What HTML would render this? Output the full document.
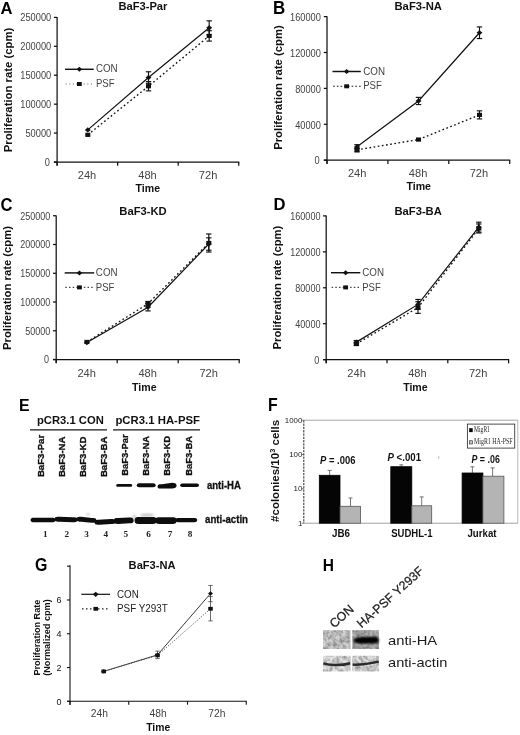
<!DOCTYPE html>
<html><head><meta charset="utf-8"><title>Figure</title>
<style>html,body{margin:0;padding:0;background:#fff}body{width:520px;height:735px;overflow:hidden;font-family:"Liberation Sans",sans-serif}svg{display:block;will-change:transform;opacity:0.999}text{font-family:"Liberation Sans",sans-serif}</style>
</head><body>
<svg width="520" height="735" viewBox="0 0 520 735">
<rect width="520" height="735" fill="#fff"/>
<g id="panelA">
<line x1="57.1" y1="17.099999999999998" x2="57.1" y2="165.6" stroke="#111" stroke-width="1.25"/>
<line x1="53.9" y1="162.0" x2="239.24999999999997" y2="162.0" stroke="#111" stroke-width="1.25"/>
<line x1="53.9" y1="162.0" x2="57.1" y2="162.0" stroke="#111" stroke-width="1.25"/>
<text x="49.900000000000006" y="165.9" font-size="11" text-anchor="end" textLength="5.15" lengthAdjust="spacingAndGlyphs" fill="#444">0</text>
<line x1="53.9" y1="133.08" x2="57.1" y2="133.08" stroke="#111" stroke-width="1.25"/>
<text x="51.2" y="136.98" font-size="11" text-anchor="end" textLength="25.75" lengthAdjust="spacingAndGlyphs" fill="#444">50000</text>
<line x1="53.9" y1="104.16" x2="57.1" y2="104.16" stroke="#111" stroke-width="1.25"/>
<text x="51.2" y="108.06" font-size="11" text-anchor="end" textLength="30.9" lengthAdjust="spacingAndGlyphs" fill="#444">100000</text>
<line x1="53.9" y1="75.24" x2="57.1" y2="75.24" stroke="#111" stroke-width="1.25"/>
<text x="51.2" y="79.14" font-size="11" text-anchor="end" textLength="30.9" lengthAdjust="spacingAndGlyphs" fill="#444">150000</text>
<line x1="53.9" y1="46.32" x2="57.1" y2="46.32" stroke="#111" stroke-width="1.25"/>
<text x="51.2" y="50.22" font-size="11" text-anchor="end" textLength="30.9" lengthAdjust="spacingAndGlyphs" fill="#444">200000</text>
<line x1="53.9" y1="17.4" x2="57.1" y2="17.4" stroke="#111" stroke-width="1.25"/>
<text x="51.2" y="21.3" font-size="11" text-anchor="end" textLength="30.9" lengthAdjust="spacingAndGlyphs" fill="#444">250000</text>
<line x1="57.1" y1="162.0" x2="57.1" y2="165.7" stroke="#111" stroke-width="1.25"/>
<line x1="117.65" y1="162.0" x2="117.65" y2="165.7" stroke="#111" stroke-width="1.25"/>
<line x1="178.2" y1="162.0" x2="178.2" y2="165.7" stroke="#111" stroke-width="1.25"/>
<line x1="238.74999999999997" y1="162.0" x2="238.74999999999997" y2="165.7" stroke="#111" stroke-width="1.25"/>
<text x="86.97" y="179.4" font-size="10.8" text-anchor="middle" textLength="18.5" lengthAdjust="spacingAndGlyphs" fill="#444">24h</text>
<text x="147.52" y="179.4" font-size="10.8" text-anchor="middle" textLength="18.5" lengthAdjust="spacingAndGlyphs" fill="#444">48h</text>
<text x="208.07" y="179.4" font-size="10.8" text-anchor="middle" textLength="18.5" lengthAdjust="spacingAndGlyphs" fill="#444">72h</text>
<text x="147.8" y="191.9" font-size="11.3" font-weight="bold" text-anchor="middle" textLength="24.5" lengthAdjust="spacingAndGlyphs" fill="#111">Time</text>
<text x="118.4" y="9.9" font-size="11.6" font-weight="bold" textLength="49" lengthAdjust="spacingAndGlyphs" fill="#111">BaF3-Par</text>
<text x="0.6" y="13.6" font-size="17.2" font-weight="bold" textLength="12" lengthAdjust="spacingAndGlyphs" fill="#000">A</text>
<text x="11.6" y="90.0" font-size="11" font-weight="bold" text-anchor="middle" textLength="124.5" lengthAdjust="spacingAndGlyphs" transform="rotate(-90 11.6 90.0)" fill="#111">Proliferation rate (cpm)</text>
<polyline points="87.8,129.9 148.5,77.55 209.2,27.81" fill="none" stroke="#111" stroke-width="1.2"/>
<polyline points="87.8,134.82 148.5,86.23 209.2,35.91" fill="none" stroke="#111" stroke-width="1.35" stroke-dasharray="1.7 2.5"/>
<path d="M84.89 129.9L87.8 127.3L90.71 129.9L87.8 132.5Z" fill="#111"/>
<rect x="85.28" y="132.72" width="5.04" height="4.2" fill="#111"/>
<line x1="148.5" y1="71.77" x2="148.5" y2="83.34" stroke="#111" stroke-width="1.15"/>
<line x1="145.8" y1="71.77" x2="151.2" y2="71.77" stroke="#111" stroke-width="1.15"/>
<line x1="145.8" y1="83.34" x2="151.2" y2="83.34" stroke="#111" stroke-width="1.15"/>
<line x1="148.5" y1="81.6" x2="148.5" y2="90.86" stroke="#111" stroke-width="1.15"/>
<line x1="145.8" y1="81.6" x2="151.2" y2="81.6" stroke="#111" stroke-width="1.15"/>
<line x1="145.8" y1="90.86" x2="151.2" y2="90.86" stroke="#111" stroke-width="1.15"/>
<path d="M145.59 77.55L148.5 74.95L151.41 77.55L148.5 80.15Z" fill="#111"/>
<rect x="145.98" y="84.13" width="5.04" height="4.2" fill="#111"/>
<line x1="209.2" y1="20.87" x2="209.2" y2="34.75" stroke="#111" stroke-width="1.15"/>
<line x1="206.5" y1="20.87" x2="211.89999999999998" y2="20.87" stroke="#111" stroke-width="1.15"/>
<line x1="206.5" y1="34.75" x2="211.89999999999998" y2="34.75" stroke="#111" stroke-width="1.15"/>
<line x1="209.2" y1="30.7" x2="209.2" y2="41.11" stroke="#111" stroke-width="1.15"/>
<line x1="206.5" y1="30.7" x2="211.89999999999998" y2="30.7" stroke="#111" stroke-width="1.15"/>
<line x1="206.5" y1="41.11" x2="211.89999999999998" y2="41.11" stroke="#111" stroke-width="1.15"/>
<path d="M206.29 27.81L209.2 25.21L212.11 27.81L209.2 30.41Z" fill="#111"/>
<rect x="206.68" y="33.81" width="5.04" height="4.2" fill="#111"/>
<line x1="65" y1="69.3" x2="93.7" y2="69.3" stroke="#111" stroke-width="1.45"/>
<path d="M76.55 69.3L79.35 66.8L82.14999999999999 69.3L79.35 71.8Z" fill="#111"/>
<text x="95.9" y="71.8" font-size="10.0" textLength="21.8" lengthAdjust="spacingAndGlyphs" fill="#444">CON</text>
<line x1="65.6" y1="84" x2="93.7" y2="84" stroke="#777" stroke-width="1.1" stroke-dasharray="1.2 2.4"/>
<rect x="76.95" y="82.0" width="4.8" height="4.0" fill="#111"/>
<text x="95.9" y="87.1" font-size="10.0" textLength="18.6" lengthAdjust="spacingAndGlyphs" fill="#444">PSF</text>
</g>
<g id="panelB">
<line x1="327.0" y1="16.3" x2="327.0" y2="163.79999999999998" stroke="#111" stroke-width="1.25"/>
<line x1="323.8" y1="160.2" x2="510.2" y2="160.2" stroke="#111" stroke-width="1.25"/>
<line x1="323.8" y1="160.2" x2="327.0" y2="160.2" stroke="#111" stroke-width="1.25"/>
<text x="319.59999999999997" y="164.4" font-size="11" text-anchor="end" textLength="5.15" lengthAdjust="spacingAndGlyphs" fill="#444">0</text>
<line x1="323.8" y1="124.3" x2="327.0" y2="124.3" stroke="#111" stroke-width="1.25"/>
<text x="320.9" y="128.5" font-size="11" text-anchor="end" textLength="25.75" lengthAdjust="spacingAndGlyphs" fill="#444">40000</text>
<line x1="323.8" y1="88.4" x2="327.0" y2="88.4" stroke="#111" stroke-width="1.25"/>
<text x="320.9" y="92.6" font-size="11" text-anchor="end" textLength="25.75" lengthAdjust="spacingAndGlyphs" fill="#444">80000</text>
<line x1="323.8" y1="52.5" x2="327.0" y2="52.5" stroke="#111" stroke-width="1.25"/>
<text x="320.9" y="56.7" font-size="11" text-anchor="end" textLength="30.9" lengthAdjust="spacingAndGlyphs" fill="#444">120000</text>
<line x1="323.8" y1="16.6" x2="327.0" y2="16.6" stroke="#111" stroke-width="1.25"/>
<text x="320.9" y="20.8" font-size="11" text-anchor="end" textLength="30.9" lengthAdjust="spacingAndGlyphs" fill="#444">160000</text>
<line x1="327.0" y1="160.2" x2="327.0" y2="163.89999999999998" stroke="#111" stroke-width="1.25"/>
<line x1="387.9" y1="160.2" x2="387.9" y2="163.89999999999998" stroke="#111" stroke-width="1.25"/>
<line x1="448.8" y1="160.2" x2="448.8" y2="163.89999999999998" stroke="#111" stroke-width="1.25"/>
<line x1="509.7" y1="160.2" x2="509.7" y2="163.89999999999998" stroke="#111" stroke-width="1.25"/>
<text x="357.15" y="177.2" font-size="10.8" text-anchor="middle" textLength="18.5" lengthAdjust="spacingAndGlyphs" fill="#444">24h</text>
<text x="418.05" y="177.2" font-size="10.8" text-anchor="middle" textLength="18.5" lengthAdjust="spacingAndGlyphs" fill="#444">48h</text>
<text x="478.95" y="177.2" font-size="10.8" text-anchor="middle" textLength="18.5" lengthAdjust="spacingAndGlyphs" fill="#444">72h</text>
<text x="418.7" y="189.8" font-size="11.3" font-weight="bold" text-anchor="middle" textLength="24.5" lengthAdjust="spacingAndGlyphs" fill="#111">Time</text>
<text x="394.5" y="9.6" font-size="11.6" font-weight="bold" textLength="47.5" lengthAdjust="spacingAndGlyphs" fill="#111">BaF3-NA</text>
<text x="272.9" y="13.7" font-size="17.8" font-weight="bold" textLength="12.2" lengthAdjust="spacingAndGlyphs" fill="#000">B</text>
<text x="282.0" y="87.5" font-size="11" font-weight="bold" text-anchor="middle" textLength="124.7" lengthAdjust="spacingAndGlyphs" transform="rotate(-90 282.0 87.5)" fill="#111">Proliferation rate (cpm)</text>
<polyline points="357.0,146.74 418.5,100.96 479.5,32.75" fill="none" stroke="#111" stroke-width="1.2"/>
<polyline points="357.0,149.88 418.5,139.56 479.5,114.88" fill="none" stroke="#111" stroke-width="1.35" stroke-dasharray="1.7 2.5"/>
<line x1="357.0" y1="144.67" x2="357.0" y2="148.8" stroke="#111" stroke-width="1.15"/>
<line x1="354.3" y1="144.67" x2="359.7" y2="144.67" stroke="#111" stroke-width="1.15"/>
<line x1="354.3" y1="148.8" x2="359.7" y2="148.8" stroke="#111" stroke-width="1.15"/>
<line x1="357.0" y1="147.81" x2="357.0" y2="151.94" stroke="#111" stroke-width="1.15"/>
<line x1="354.3" y1="147.81" x2="359.7" y2="147.81" stroke="#111" stroke-width="1.15"/>
<line x1="354.3" y1="151.94" x2="359.7" y2="151.94" stroke="#111" stroke-width="1.15"/>
<path d="M354.09 146.74L357.0 144.14L359.91 146.74L357.0 149.34Z" fill="#111"/>
<rect x="354.48" y="147.78" width="5.04" height="4.2" fill="#111"/>
<line x1="418.5" y1="97.38" x2="418.5" y2="104.55" stroke="#111" stroke-width="1.15"/>
<line x1="415.8" y1="97.38" x2="421.2" y2="97.38" stroke="#111" stroke-width="1.15"/>
<line x1="415.8" y1="104.55" x2="421.2" y2="104.55" stroke="#111" stroke-width="1.15"/>
<path d="M415.59 100.96L418.5 98.36L421.41 100.96L418.5 103.56Z" fill="#111"/>
<rect x="415.98" y="137.46" width="5.04" height="4.2" fill="#111"/>
<line x1="479.5" y1="26.92" x2="479.5" y2="38.59" stroke="#111" stroke-width="1.15"/>
<line x1="476.8" y1="26.92" x2="482.2" y2="26.92" stroke="#111" stroke-width="1.15"/>
<line x1="476.8" y1="38.59" x2="482.2" y2="38.59" stroke="#111" stroke-width="1.15"/>
<line x1="479.5" y1="110.84" x2="479.5" y2="118.91" stroke="#111" stroke-width="1.15"/>
<line x1="476.8" y1="110.84" x2="482.2" y2="110.84" stroke="#111" stroke-width="1.15"/>
<line x1="476.8" y1="118.91" x2="482.2" y2="118.91" stroke="#111" stroke-width="1.15"/>
<path d="M476.59 32.75L479.5 30.15L482.41 32.75L479.5 35.35Z" fill="#111"/>
<rect x="476.98" y="112.78" width="5.04" height="4.2" fill="#111"/>
<line x1="332.5" y1="71.5" x2="360.8" y2="71.5" stroke="#111" stroke-width="1.45"/>
<path d="M343.84999999999997 71.5L346.65 69.0L349.45 71.5L346.65 74.0Z" fill="#111"/>
<text x="363.2" y="74.6" font-size="10.0" textLength="21.8" lengthAdjust="spacingAndGlyphs" fill="#444">CON</text>
<line x1="333.1" y1="86.3" x2="360.8" y2="86.3" stroke="#222" stroke-width="1.1" stroke-dasharray="1.7 2.0"/>
<rect x="344.25" y="84.3" width="4.8" height="4.0" fill="#111"/>
<text x="363.2" y="89.4" font-size="10.0" textLength="18.6" lengthAdjust="spacingAndGlyphs" fill="#444">PSF</text>
</g>
<g id="panelC">
<line x1="56.2" y1="215.45" x2="56.2" y2="363.1" stroke="#111" stroke-width="1.25"/>
<line x1="53.0" y1="359.5" x2="239.7" y2="359.5" stroke="#111" stroke-width="1.25"/>
<line x1="53.0" y1="359.5" x2="56.2" y2="359.5" stroke="#111" stroke-width="1.25"/>
<text x="49.0" y="363.4" font-size="11" text-anchor="end" textLength="5.0" lengthAdjust="spacingAndGlyphs" fill="#444">0</text>
<line x1="53.0" y1="330.75" x2="56.2" y2="330.75" stroke="#111" stroke-width="1.25"/>
<text x="50.3" y="334.65" font-size="11" text-anchor="end" textLength="25.0" lengthAdjust="spacingAndGlyphs" fill="#444">50000</text>
<line x1="53.0" y1="302.0" x2="56.2" y2="302.0" stroke="#111" stroke-width="1.25"/>
<text x="50.3" y="305.9" font-size="11" text-anchor="end" textLength="30.0" lengthAdjust="spacingAndGlyphs" fill="#444">100000</text>
<line x1="53.0" y1="273.25" x2="56.2" y2="273.25" stroke="#111" stroke-width="1.25"/>
<text x="50.3" y="277.15" font-size="11" text-anchor="end" textLength="30.0" lengthAdjust="spacingAndGlyphs" fill="#444">150000</text>
<line x1="53.0" y1="244.5" x2="56.2" y2="244.5" stroke="#111" stroke-width="1.25"/>
<text x="50.3" y="248.4" font-size="11" text-anchor="end" textLength="30.0" lengthAdjust="spacingAndGlyphs" fill="#444">200000</text>
<line x1="53.0" y1="215.75" x2="56.2" y2="215.75" stroke="#111" stroke-width="1.25"/>
<text x="50.3" y="219.65" font-size="11" text-anchor="end" textLength="30.0" lengthAdjust="spacingAndGlyphs" fill="#444">250000</text>
<line x1="56.2" y1="359.5" x2="56.2" y2="363.2" stroke="#111" stroke-width="1.25"/>
<line x1="117.2" y1="359.5" x2="117.2" y2="363.2" stroke="#111" stroke-width="1.25"/>
<line x1="178.2" y1="359.5" x2="178.2" y2="363.2" stroke="#111" stroke-width="1.25"/>
<line x1="239.2" y1="359.5" x2="239.2" y2="363.2" stroke="#111" stroke-width="1.25"/>
<text x="86.7" y="376.5" font-size="10.8" text-anchor="middle" textLength="18.5" lengthAdjust="spacingAndGlyphs" fill="#444">24h</text>
<text x="147.7" y="376.5" font-size="10.8" text-anchor="middle" textLength="18.5" lengthAdjust="spacingAndGlyphs" fill="#444">48h</text>
<text x="208.7" y="376.5" font-size="10.8" text-anchor="middle" textLength="18.5" lengthAdjust="spacingAndGlyphs" fill="#444">72h</text>
<text x="144.3" y="390.7" font-size="11.3" font-weight="bold" text-anchor="middle" textLength="24.5" lengthAdjust="spacingAndGlyphs" fill="#111">Time</text>
<text x="119.3" y="214.6" font-size="11.6" font-weight="bold" textLength="47.4" lengthAdjust="spacingAndGlyphs" fill="#111">BaF3-KD</text>
<text x="0.5" y="210.7" font-size="18.6" font-weight="bold" textLength="12.0" lengthAdjust="spacingAndGlyphs" fill="#000">C</text>
<text x="10.6" y="288.0" font-size="11" font-weight="bold" text-anchor="middle" textLength="123.9" lengthAdjust="spacingAndGlyphs" transform="rotate(-90 10.6 288.0)" fill="#111">Proliferation rate (cpm)</text>
<polyline points="86.9,342.54 148.0,307.18 208.8,244.04" fill="none" stroke="#111" stroke-width="1.2"/>
<polyline points="86.9,341.96 148.0,303.73 208.8,243.0" fill="none" stroke="#111" stroke-width="1.35" stroke-dasharray="1.7 2.5"/>
<path d="M83.99 342.54L86.9 339.94L89.81 342.54L86.9 345.14Z" fill="#111"/>
<rect x="84.38" y="339.86" width="5.04" height="4.2" fill="#111"/>
<line x1="148.0" y1="303.44" x2="148.0" y2="310.91" stroke="#111" stroke-width="1.15"/>
<line x1="145.3" y1="303.44" x2="150.7" y2="303.44" stroke="#111" stroke-width="1.15"/>
<line x1="145.3" y1="310.91" x2="150.7" y2="310.91" stroke="#111" stroke-width="1.15"/>
<line x1="148.0" y1="301.43" x2="148.0" y2="306.02" stroke="#111" stroke-width="1.15"/>
<line x1="145.3" y1="301.43" x2="150.7" y2="301.43" stroke="#111" stroke-width="1.15"/>
<line x1="145.3" y1="306.02" x2="150.7" y2="306.02" stroke="#111" stroke-width="1.15"/>
<path d="M145.09 307.18L148.0 304.58L150.91 307.18L148.0 309.78Z" fill="#111"/>
<rect x="145.48" y="301.63" width="5.04" height="4.2" fill="#111"/>
<line x1="208.8" y1="237.83" x2="208.8" y2="250.25" stroke="#111" stroke-width="1.15"/>
<line x1="206.10000000000002" y1="237.83" x2="211.5" y2="237.83" stroke="#111" stroke-width="1.15"/>
<line x1="206.10000000000002" y1="250.25" x2="211.5" y2="250.25" stroke="#111" stroke-width="1.15"/>
<line x1="208.8" y1="233.98" x2="208.8" y2="252.03" stroke="#111" stroke-width="1.15"/>
<line x1="206.10000000000002" y1="233.98" x2="211.5" y2="233.98" stroke="#111" stroke-width="1.15"/>
<line x1="206.10000000000002" y1="252.03" x2="211.5" y2="252.03" stroke="#111" stroke-width="1.15"/>
<path d="M205.89 244.04L208.8 241.44L211.71 244.04L208.8 246.64Z" fill="#111"/>
<rect x="206.28" y="240.9" width="5.04" height="4.2" fill="#111"/>
<line x1="64.7" y1="272.9" x2="94.2" y2="272.9" stroke="#111" stroke-width="1.45"/>
<path d="M76.65 272.9L79.45 270.4L82.25 272.9L79.45 275.4Z" fill="#111"/>
<text x="95.8" y="275.7" font-size="10.0" textLength="21.8" lengthAdjust="spacingAndGlyphs" fill="#444">CON</text>
<line x1="65.3" y1="287.4" x2="94.2" y2="287.4" stroke="#444" stroke-width="1.1" stroke-dasharray="1.5 2.2"/>
<rect x="77.05" y="285.4" width="4.8" height="4.0" fill="#111"/>
<text x="95.8" y="290.6" font-size="10.0" textLength="18.6" lengthAdjust="spacingAndGlyphs" fill="#444">PSF</text>
</g>
<g id="panelD">
<line x1="326.2" y1="215.6" x2="326.2" y2="363.25" stroke="#111" stroke-width="1.25"/>
<line x1="323.0" y1="359.65" x2="509.09999999999997" y2="359.65" stroke="#111" stroke-width="1.25"/>
<line x1="323.0" y1="359.65" x2="326.2" y2="359.65" stroke="#111" stroke-width="1.25"/>
<text x="319.2" y="363.55" font-size="11" text-anchor="end" textLength="5.05" lengthAdjust="spacingAndGlyphs" fill="#444">0</text>
<line x1="323.0" y1="323.71" x2="326.2" y2="323.71" stroke="#111" stroke-width="1.25"/>
<text x="320.5" y="327.61" font-size="11" text-anchor="end" textLength="25.25" lengthAdjust="spacingAndGlyphs" fill="#444">40000</text>
<line x1="323.0" y1="287.77" x2="326.2" y2="287.77" stroke="#111" stroke-width="1.25"/>
<text x="320.5" y="291.67" font-size="11" text-anchor="end" textLength="25.25" lengthAdjust="spacingAndGlyphs" fill="#444">80000</text>
<line x1="323.0" y1="251.84" x2="326.2" y2="251.84" stroke="#111" stroke-width="1.25"/>
<text x="320.5" y="255.74" font-size="11" text-anchor="end" textLength="30.3" lengthAdjust="spacingAndGlyphs" fill="#444">120000</text>
<line x1="323.0" y1="215.9" x2="326.2" y2="215.9" stroke="#111" stroke-width="1.25"/>
<text x="320.5" y="219.8" font-size="11" text-anchor="end" textLength="30.3" lengthAdjust="spacingAndGlyphs" fill="#444">160000</text>
<line x1="326.2" y1="359.65" x2="326.2" y2="363.34999999999997" stroke="#111" stroke-width="1.25"/>
<line x1="387.0" y1="359.65" x2="387.0" y2="363.34999999999997" stroke="#111" stroke-width="1.25"/>
<line x1="447.79999999999995" y1="359.65" x2="447.79999999999995" y2="363.34999999999997" stroke="#111" stroke-width="1.25"/>
<line x1="508.59999999999997" y1="359.65" x2="508.59999999999997" y2="363.34999999999997" stroke="#111" stroke-width="1.25"/>
<text x="356.6" y="376.5" font-size="10.8" text-anchor="middle" textLength="18.5" lengthAdjust="spacingAndGlyphs" fill="#444">24h</text>
<text x="417.4" y="376.5" font-size="10.8" text-anchor="middle" textLength="18.5" lengthAdjust="spacingAndGlyphs" fill="#444">48h</text>
<text x="478.2" y="376.5" font-size="10.8" text-anchor="middle" textLength="18.5" lengthAdjust="spacingAndGlyphs" fill="#444">72h</text>
<text x="415.4" y="391.0" font-size="11.3" font-weight="bold" text-anchor="middle" textLength="24.5" lengthAdjust="spacingAndGlyphs" fill="#111">Time</text>
<text x="394.5" y="214.5" font-size="11.6" font-weight="bold" textLength="47.3" lengthAdjust="spacingAndGlyphs" fill="#111">BaF3-BA</text>
<text x="273.4" y="210.3" font-size="17.2" font-weight="bold" textLength="12" lengthAdjust="spacingAndGlyphs" fill="#000">D</text>
<text x="281.5" y="287.6" font-size="11" font-weight="bold" text-anchor="middle" textLength="123.8" lengthAdjust="spacingAndGlyphs" transform="rotate(-90 281.5 287.6)" fill="#111">Proliferation rate (cpm)</text>
<polyline points="356.4,342.13 418.0,304.4 478.8,227.13" fill="none" stroke="#111" stroke-width="1.2"/>
<polyline points="356.4,343.93 418.0,307.54 478.8,228.48" fill="none" stroke="#111" stroke-width="1.35" stroke-dasharray="1.7 2.5"/>
<line x1="356.4" y1="340.51" x2="356.4" y2="343.75" stroke="#111" stroke-width="1.15"/>
<line x1="353.7" y1="340.51" x2="359.09999999999997" y2="340.51" stroke="#111" stroke-width="1.15"/>
<line x1="353.7" y1="343.75" x2="359.09999999999997" y2="343.75" stroke="#111" stroke-width="1.15"/>
<line x1="356.4" y1="342.31" x2="356.4" y2="345.54" stroke="#111" stroke-width="1.15"/>
<line x1="353.7" y1="342.31" x2="359.09999999999997" y2="342.31" stroke="#111" stroke-width="1.15"/>
<line x1="353.7" y1="345.54" x2="359.09999999999997" y2="345.54" stroke="#111" stroke-width="1.15"/>
<path d="M353.49 342.13L356.4 339.53L359.31 342.13L356.4 344.73Z" fill="#111"/>
<rect x="353.88" y="341.83" width="5.04" height="4.2" fill="#111"/>
<line x1="418.0" y1="299.45" x2="418.0" y2="309.34" stroke="#111" stroke-width="1.15"/>
<line x1="415.3" y1="299.45" x2="420.7" y2="299.45" stroke="#111" stroke-width="1.15"/>
<line x1="415.3" y1="309.34" x2="420.7" y2="309.34" stroke="#111" stroke-width="1.15"/>
<line x1="418.0" y1="301.7" x2="418.0" y2="313.38" stroke="#111" stroke-width="1.15"/>
<line x1="415.3" y1="301.7" x2="420.7" y2="301.7" stroke="#111" stroke-width="1.15"/>
<line x1="415.3" y1="313.38" x2="420.7" y2="313.38" stroke="#111" stroke-width="1.15"/>
<path d="M415.09 304.4L418.0 301.8L420.91 304.4L418.0 307.0Z" fill="#111"/>
<rect x="415.48" y="305.44" width="5.04" height="4.2" fill="#111"/>
<line x1="478.8" y1="222.19" x2="478.8" y2="232.07" stroke="#111" stroke-width="1.15"/>
<line x1="476.1" y1="222.19" x2="481.5" y2="222.19" stroke="#111" stroke-width="1.15"/>
<line x1="476.1" y1="232.07" x2="481.5" y2="232.07" stroke="#111" stroke-width="1.15"/>
<line x1="478.8" y1="223.99" x2="478.8" y2="232.97" stroke="#111" stroke-width="1.15"/>
<line x1="476.1" y1="223.99" x2="481.5" y2="223.99" stroke="#111" stroke-width="1.15"/>
<line x1="476.1" y1="232.97" x2="481.5" y2="232.97" stroke="#111" stroke-width="1.15"/>
<path d="M475.89 227.13L478.8 224.53L481.71 227.13L478.8 229.73Z" fill="#111"/>
<rect x="476.28" y="226.38" width="5.04" height="4.2" fill="#111"/>
<line x1="331.0" y1="272.7" x2="360.3" y2="272.7" stroke="#111" stroke-width="1.45"/>
<path d="M342.84999999999997 272.7L345.65 270.2L348.45 272.7L345.65 275.2Z" fill="#111"/>
<text x="362.2" y="275.7" font-size="10.0" textLength="21.8" lengthAdjust="spacingAndGlyphs" fill="#444">CON</text>
<line x1="331.6" y1="287.4" x2="360.3" y2="287.4" stroke="#444" stroke-width="1.1" stroke-dasharray="1.5 2.2"/>
<rect x="343.25" y="285.4" width="4.8" height="4.0" fill="#111"/>
<text x="362.2" y="290.6" font-size="10.0" textLength="18.6" lengthAdjust="spacingAndGlyphs" fill="#444">PSF</text>
</g>
<defs>
<filter id="b1" x="-20%" y="-80%" width="140%" height="260%"><feGaussianBlur stdDeviation="0.7"/></filter>
<filter id="b2" x="-20%" y="-80%" width="140%" height="260%"><feGaussianBlur stdDeviation="1.0"/></filter>
<filter id="b05" x="-20%" y="-80%" width="140%" height="260%"><feGaussianBlur stdDeviation="0.45"/></filter>
<filter id="nz" x="0" y="0" width="100%" height="100%"><feTurbulence type="fractalNoise" baseFrequency="0.3" numOctaves="2" seed="3" result="t"/><feColorMatrix in="t" type="matrix" values="0 0 0 0 0  0 0 0 0 0  0 0 0 0 0  0.7 0 0 0 -0.22"/><feComposite in2="SourceGraphic" operator="in"/></filter>
</defs>
<g id="panelE">
<text x="18.9" y="411.0" font-size="16.8" font-weight="bold" textLength="10.6" lengthAdjust="spacingAndGlyphs" fill="#000">E</text>
<text x="37" y="423.5" font-size="10.8" font-weight="bold" textLength="66.8" lengthAdjust="spacingAndGlyphs" fill="#111">pCR3.1 CON</text>
<text x="115.4" y="423.6" font-size="10.8" font-weight="bold" textLength="84.6" lengthAdjust="spacingAndGlyphs" fill="#111">pCR3.1 HA-PSF</text>
<line x1="30" y1="429.9" x2="107" y2="429.9" stroke="#1a1a1a" stroke-width="1.3"/>
<line x1="113" y1="429.9" x2="200" y2="429.9" stroke="#1a1a1a" stroke-width="1.3"/>
<text x="44.4" y="477.1" font-size="9.5" font-weight="bold" textLength="42.3" lengthAdjust="spacingAndGlyphs" transform="rotate(-90 44.4 477.1)" fill="#111" stroke="#111" stroke-width="0.3">BaF3-Par</text>
<text x="64.6" y="477.1" font-size="9.5" font-weight="bold" textLength="40.6" lengthAdjust="spacingAndGlyphs" transform="rotate(-90 64.6 477.1)" fill="#111" stroke="#111" stroke-width="0.3">BaF3-NA</text>
<text x="86.2" y="477.1" font-size="9.5" font-weight="bold" textLength="40.6" lengthAdjust="spacingAndGlyphs" transform="rotate(-90 86.2 477.1)" fill="#111" stroke="#111" stroke-width="0.3">BaF3-KD</text>
<text x="107.0" y="477.1" font-size="9.5" font-weight="bold" textLength="40.6" lengthAdjust="spacingAndGlyphs" transform="rotate(-90 107.0 477.1)" fill="#111" stroke="#111" stroke-width="0.3">BaF3-BA</text>
<text x="128.3" y="475.7" font-size="9.5" font-weight="bold" textLength="41.3" lengthAdjust="spacingAndGlyphs" transform="rotate(-90 128.3 475.7)" fill="#111" stroke="#111" stroke-width="0.3">BaF3-Par</text>
<text x="149.2" y="475.7" font-size="9.5" font-weight="bold" textLength="39.7" lengthAdjust="spacingAndGlyphs" transform="rotate(-90 149.2 475.7)" fill="#111" stroke="#111" stroke-width="0.3">BaF3-NA</text>
<text x="170.2" y="475.7" font-size="9.5" font-weight="bold" textLength="39.7" lengthAdjust="spacingAndGlyphs" transform="rotate(-90 170.2 475.7)" fill="#111" stroke="#111" stroke-width="0.3">BaF3-KD</text>
<text x="191.6" y="475.7" font-size="9.5" font-weight="bold" textLength="39.7" lengthAdjust="spacingAndGlyphs" transform="rotate(-90 191.6 475.7)" fill="#111" stroke="#111" stroke-width="0.3">BaF3-BA</text>
<g filter="url(#b1)">
<path d="M116.2 485.4 C116.2 484.1 117.5 484.1 118.8 484.1 L129.6 484.1 C130.9 484.1 132.2 484.1 132.2 485.4 C132.2 486.7 130.9 486.7 129.6 486.7 L118.8 486.7 C117.5 486.7 116.2 486.7 116.2 485.4Z" fill="#0a0a0a"/>
<path d="M136.8 485.3 C136.8 483.3 138.8 483.3 140.8 483.3 L151.6 483.3 C153.6 483.3 155.6 483.3 155.6 485.3 C155.6 487.3 153.6 487.3 151.6 487.3 L140.8 487.3 C138.8 487.3 136.8 487.3 136.8 485.3Z" fill="#0a0a0a"/>
<path d="M157.6 486.4 C157.6 484.2 159.8 484.2 162.0 484.2 L172.2 482.7 C174.4 482.7 176.6 483.4 176.6 485.6 C176.6 487.8 174.4 488.5 172.2 488.5 L162.0 488.6 C159.8 488.6 157.6 488.6 157.6 486.4Z" fill="#0a0a0a"/>
<path d="M180.2 485.2 C180.2 483.5 181.9 483.5 183.6 483.5 L195.6 483.5 C197.3 483.5 199.0 483.5 199.0 485.2 C199.0 486.9 197.3 486.9 195.6 486.9 L183.6 486.9 C181.9 486.9 180.2 486.9 180.2 485.2Z" fill="#0a0a0a"/>
<path d="M30.6 520.0 C30.6 517.65 32.8 517.65 35.0 517.65 L51.0 517.65 C53.2 517.65 55.4 517.65 55.4 520.0 C55.4 522.35 53.2 522.35 51.0 522.35 L35.0 522.35 C32.8 522.35 30.6 522.35 30.6 520.0Z" fill="#0a0a0a"/>
<path d="M54.6 519.3 C54.6 516.85 56.8 516.85 59.0 516.85 L73.0 517.25 C75.2 517.25 77.4 517.25 77.4 519.7 C77.4 522.15 75.2 522.15 73.0 522.15 L59.0 521.75 C56.8 521.75 54.6 521.75 54.6 519.3Z" fill="#0a0a0a"/>
<path d="M76.6 519.2 C76.6 516.75 78.8 516.75 81.0 516.75 L92.0 517.95 C94.2 517.95 96.4 517.95 96.4 520.4 C96.4 522.85 94.2 522.85 92.0 522.85 L81.0 521.65 C78.8 521.65 76.6 521.65 76.6 519.2Z" fill="#0a0a0a"/>
<path d="M94.6 522.2 C94.6 519.7 96.8 519.7 99.0 519.7 L111.0 519.1 C113.2 519.1 115.4 519.1 115.4 521.6 C115.4 524.1 113.2 524.1 111.0 524.1 L99.0 524.7 C96.8 524.7 94.6 524.7 94.6 522.2Z" fill="#0a0a0a"/>
<path d="M113.8 521.0 C113.8 518.1 116.0 518.1 118.2 518.1 L129.2 517.5 C131.4 517.5 133.6 517.5 133.6 520.4 C133.6 523.3 131.4 523.3 129.2 523.3 L118.2 523.9 C116.0 523.9 113.8 523.9 113.8 521.0Z" fill="#0a0a0a"/>
<path d="M134.6 520.5 C134.6 517.1 136.8 517.1 139.0 517.1 L152.2 517.1 C154.4 517.1 156.6 517.1 156.6 520.5 C156.6 523.9 154.4 523.9 152.2 523.9 L139.0 523.9 C136.8 523.9 134.6 523.9 134.6 520.5Z" fill="#0a0a0a"/>
<path d="M155.4 520.6 C155.4 517.2 157.6 517.2 159.8 517.2 L172.2 517.2 C174.4 517.2 176.6 517.2 176.6 520.6 C176.6 524.0 174.4 524.0 172.2 524.0 L159.8 524.0 C157.6 524.0 155.4 524.0 155.4 520.6Z" fill="#0a0a0a"/>
<path d="M175.4 520.1 C175.4 517.9 177.6 517.9 179.8 517.9 L192.8 517.9 C195.0 517.9 197.2 517.9 197.2 520.1 C197.2 522.3 195.0 522.3 192.8 522.3 L179.8 522.3 C177.6 522.3 175.4 522.3 175.4 520.1Z" fill="#0a0a0a"/>
</g>
<g filter="url(#b2)" fill="#777" opacity="0.5"><ellipse cx="147" cy="515" rx="7" ry="1.3"/><ellipse cx="134.2" cy="517" rx="1.2" ry="2.4"/><ellipse cx="88" cy="514.4" rx="2" ry="0.8"/></g>
<text x="206.9" y="488.9" font-size="11" font-weight="bold" textLength="34" lengthAdjust="spacingAndGlyphs" fill="#111" stroke="#111" stroke-width="0.3">anti-HA</text>
<text x="205" y="523.1" font-size="11" font-weight="bold" textLength="43" lengthAdjust="spacingAndGlyphs" fill="#111" stroke="#111" stroke-width="0.3">anti-actin</text>
<text x="45.4" y="537.2" font-size="9.2" text-anchor="middle" style='font-family:"Liberation Serif", serif' fill="#222" font-weight="bold">1</text>
<text x="66.9" y="537.2" font-size="9.2" text-anchor="middle" style='font-family:"Liberation Serif", serif' fill="#222" font-weight="bold">2</text>
<text x="86.5" y="537.2" font-size="9.2" text-anchor="middle" style='font-family:"Liberation Serif", serif' fill="#222" font-weight="bold">3</text>
<text x="105.9" y="537.2" font-size="9.2" text-anchor="middle" style='font-family:"Liberation Serif", serif' fill="#222" font-weight="bold">4</text>
<text x="125.8" y="537.2" font-size="9.2" text-anchor="middle" style='font-family:"Liberation Serif", serif' fill="#222" font-weight="bold">5</text>
<text x="148.5" y="537.2" font-size="9.2" text-anchor="middle" style='font-family:"Liberation Serif", serif' fill="#222" font-weight="bold">6</text>
<text x="170" y="537.2" font-size="9.2" text-anchor="middle" style='font-family:"Liberation Serif", serif' fill="#222" font-weight="bold">7</text>
<text x="190" y="537.2" font-size="9.2" text-anchor="middle" style='font-family:"Liberation Serif", serif' fill="#222" font-weight="bold">8</text>
</g>
<g id="panelF">
<text x="268.0" y="410.8" font-size="17.8" font-weight="bold" textLength="9.7" lengthAdjust="spacingAndGlyphs" fill="#000">F</text>
<line x1="303.8" y1="420.2" x2="517.8" y2="420.2" stroke="#9a9a9a" stroke-width="0.9"/>
<line x1="517.8" y1="420.2" x2="517.8" y2="523.2" stroke="#b0b0b0" stroke-width="0.9"/>
<line x1="303.8" y1="523.2" x2="517.8" y2="523.2" stroke="#a0a0a0" stroke-width="1.0"/>
<line x1="303.8" y1="420.2" x2="303.8" y2="523.2" stroke="#3a3a3a" stroke-width="1.1" stroke-dasharray="2.3 1.0"/>
<line x1="301.6" y1="523.2" x2="303.8" y2="523.2" stroke="#444" stroke-width="0.7"/>
<line x1="301.6" y1="488.87" x2="303.8" y2="488.87" stroke="#444" stroke-width="0.7"/>
<line x1="301.6" y1="454.53" x2="303.8" y2="454.53" stroke="#444" stroke-width="0.7"/>
<line x1="301.40000000000003" y1="420.2" x2="303.8" y2="420.2" stroke="#555" stroke-width="0.6"/>
<text x="302.40000000000003" y="525.8" font-size="7.9" text-anchor="end" textLength="4.4" lengthAdjust="spacingAndGlyphs" fill="#222">1</text>
<text x="302.40000000000003" y="491.47" font-size="7.9" text-anchor="end" textLength="8.8" lengthAdjust="spacingAndGlyphs" fill="#222">10</text>
<text x="302.40000000000003" y="457.13" font-size="7.9" text-anchor="end" textLength="13.2" lengthAdjust="spacingAndGlyphs" fill="#222">100</text>
<text x="302.40000000000003" y="422.8" font-size="7.9" text-anchor="end" textLength="17.6" lengthAdjust="spacingAndGlyphs" fill="#222">1000</text>
<line x1="329.6" y1="470.4" x2="329.6" y2="475.3" stroke="#555" stroke-width="0.8"/>
<line x1="327.6" y1="470.4" x2="331.6" y2="470.4" stroke="#555" stroke-width="0.8"/>
<rect x="319.3" y="475.3" width="20.7" height="47.9" fill="#050505" stroke="#000" stroke-width="0.8"/>
<line x1="350.5" y1="498" x2="350.5" y2="506.3" stroke="#555" stroke-width="0.8"/>
<line x1="348.5" y1="498" x2="352.5" y2="498" stroke="#555" stroke-width="0.8"/>
<rect x="340" y="506.3" width="20.5" height="16.9" fill="#b4b4b4" stroke="#555" stroke-width="0.8"/>
<line x1="401.3" y1="464.8" x2="401.3" y2="466.7" stroke="#555" stroke-width="0.8"/>
<line x1="399.3" y1="464.8" x2="403.3" y2="464.8" stroke="#555" stroke-width="0.8"/>
<rect x="390.8" y="466.7" width="21.0" height="56.5" fill="#050505" stroke="#000" stroke-width="0.8"/>
<line x1="421.7" y1="496.9" x2="421.7" y2="505.8" stroke="#555" stroke-width="0.8"/>
<line x1="419.7" y1="496.9" x2="423.7" y2="496.9" stroke="#555" stroke-width="0.8"/>
<rect x="411.8" y="505.8" width="19.9" height="17.4" fill="#b4b4b4" stroke="#555" stroke-width="0.8"/>
<line x1="472.4" y1="466.8" x2="472.4" y2="473" stroke="#555" stroke-width="0.8"/>
<line x1="470.4" y1="466.8" x2="474.4" y2="466.8" stroke="#555" stroke-width="0.8"/>
<rect x="462.1" y="473" width="20.8" height="50.2" fill="#050505" stroke="#000" stroke-width="0.8"/>
<line x1="492.6" y1="467.9" x2="492.6" y2="476.2" stroke="#555" stroke-width="0.8"/>
<line x1="490.6" y1="467.9" x2="494.6" y2="467.9" stroke="#555" stroke-width="0.8"/>
<rect x="482.9" y="476.2" width="21.0" height="47.0" fill="#b4b4b4" stroke="#555" stroke-width="0.8"/>
<text x="320" y="463.6" font-size="11" font-weight="bold" fill="#111" textLength="35.4" lengthAdjust="spacingAndGlyphs"><tspan font-style="italic">P</tspan> = .006</text>
<text x="387.5" y="461" font-size="11" font-weight="bold" fill="#111" textLength="33.5" lengthAdjust="spacingAndGlyphs"><tspan font-style="italic">P</tspan> &lt;.001</text>
<text x="471.5" y="462.9" font-size="11" font-weight="bold" fill="#111" textLength="28.3" lengthAdjust="spacingAndGlyphs"><tspan font-style="italic">P</tspan> = .06</text>
<text x="332" y="536.8" font-size="11.2" font-weight="bold" textLength="18" lengthAdjust="spacingAndGlyphs" fill="#111">JB6</text>
<text x="391.2" y="536.9" font-size="11.2" font-weight="bold" textLength="41.3" lengthAdjust="spacingAndGlyphs" fill="#111">SUDHL-1</text>
<text x="467.5" y="536.9" font-size="11.2" font-weight="bold" textLength="29" lengthAdjust="spacingAndGlyphs" fill="#111">Jurkat</text>
<text x="279.3" y="521.9" font-size="11.5" font-weight="bold" fill="#111" transform="rotate(-90 279.3 521.9)" textLength="102" lengthAdjust="spacingAndGlyphs">#colonies/10<tspan font-size="7.4" dy="-3.9">3</tspan><tspan dy="3.9"> cells</tspan></text>
<rect x="467.4" y="424.1" width="47.3" height="24" fill="#fff" stroke="#3a3a3a" stroke-width="0.9"/>
<rect x="469.2" y="428.2" width="3.5" height="3.9" fill="#000"/>
<rect x="469.5" y="440.7" width="3.1" height="3.3" fill="#c4c4c4" stroke="#444" stroke-width="0.7"/>
<text x="474.1" y="432.4" font-size="7.2" textLength="15.8" lengthAdjust="spacingAndGlyphs" style='font-family:"Liberation Serif", serif' fill="#222">MigR1</text>
<text x="474.1" y="444.4" font-size="7.2" textLength="38.5" lengthAdjust="spacingAndGlyphs" style='font-family:"Liberation Serif", serif' fill="#222">MigR1 HA-PSF</text>
<rect x="438.3" y="456.2" width="0.9" height="2.6" fill="#aaa"/>
</g>
<g id="panelG">
<text x="35.0" y="571.2" font-size="17.6" font-weight="bold" textLength="12.4" lengthAdjust="spacingAndGlyphs" fill="#000">G</text>
<line x1="70" y1="565.2" x2="70" y2="704.9" stroke="#111" stroke-width="1.1"/>
<line x1="67" y1="701.3" x2="246.75" y2="701.3" stroke="#111" stroke-width="1.1"/>
<line x1="67" y1="701.3" x2="70" y2="701.3" stroke="#111" stroke-width="1.1"/>
<text x="61.5" y="704.8" font-size="9.8" text-anchor="end" textLength="5.0" lengthAdjust="spacingAndGlyphs" fill="#111">0</text>
<line x1="67" y1="667.52" x2="70" y2="667.52" stroke="#111" stroke-width="1.1"/>
<text x="61.5" y="671.02" font-size="9.8" text-anchor="end" textLength="5.0" lengthAdjust="spacingAndGlyphs" fill="#111">2</text>
<line x1="67" y1="633.75" x2="70" y2="633.75" stroke="#111" stroke-width="1.1"/>
<text x="61.5" y="637.25" font-size="9.8" text-anchor="end" textLength="5.0" lengthAdjust="spacingAndGlyphs" fill="#111">4</text>
<line x1="67" y1="599.98" x2="70" y2="599.98" stroke="#111" stroke-width="1.1"/>
<text x="61.5" y="603.48" font-size="9.8" text-anchor="end" textLength="5.0" lengthAdjust="spacingAndGlyphs" fill="#111">6</text>
<line x1="67" y1="566.2" x2="70" y2="566.2" stroke="#111" stroke-width="1.1"/>
<line x1="70.0" y1="701.3" x2="70.0" y2="704.6999999999999" stroke="#111" stroke-width="1.1"/>
<line x1="128.75" y1="701.3" x2="128.75" y2="704.6999999999999" stroke="#111" stroke-width="1.1"/>
<line x1="187.5" y1="701.3" x2="187.5" y2="704.6999999999999" stroke="#111" stroke-width="1.1"/>
<line x1="246.25" y1="701.3" x2="246.25" y2="704.6999999999999" stroke="#111" stroke-width="1.1"/>
<text x="99.38" y="717" font-size="10.6" text-anchor="middle" textLength="17.2" lengthAdjust="spacingAndGlyphs" fill="#444">24h</text>
<text x="158.12" y="717" font-size="10.6" text-anchor="middle" textLength="17.2" lengthAdjust="spacingAndGlyphs" fill="#444">48h</text>
<text x="216.88" y="717" font-size="10.6" text-anchor="middle" textLength="17.2" lengthAdjust="spacingAndGlyphs" fill="#444">72h</text>
<text x="158.2" y="730.8" font-size="10.2" font-weight="bold" text-anchor="middle" textLength="24" lengthAdjust="spacingAndGlyphs" fill="#111">Time</text>
<text x="128.6" y="569.1" font-size="10.5" font-weight="bold" textLength="47" lengthAdjust="spacingAndGlyphs" fill="#111">BaF3-NA</text>
<polyline points="103.7,671.41 157.5,654.86 210.5,593.56" fill="none" stroke="#222" stroke-width="0.9"/>
<polyline points="103.7,671.41 157.5,655.37 210.5,608.76" fill="none" stroke="#444" stroke-width="0.9" stroke-dasharray="1.1 1.5"/>
<path d="M101.24 671.41L103.7 669.21L106.16 671.41L103.7 673.61Z" fill="#111"/>
<rect x="101.42" y="669.51" width="4.56" height="3.8" fill="#111"/>
<line x1="157.5" y1="651.14" x2="157.5" y2="658.57" stroke="#444" stroke-width="0.8"/>
<line x1="155.3" y1="651.14" x2="159.7" y2="651.14" stroke="#444" stroke-width="0.8"/>
<line x1="155.3" y1="658.57" x2="159.7" y2="658.57" stroke="#444" stroke-width="0.8"/>
<path d="M155.04 654.86L157.5 652.66L159.96 654.86L157.5 657.06Z" fill="#111"/>
<rect x="155.22" y="653.47" width="4.56" height="3.8" fill="#111"/>
<line x1="210.5" y1="585.45" x2="210.5" y2="601.66" stroke="#444" stroke-width="0.8"/>
<line x1="208.3" y1="585.45" x2="212.7" y2="585.45" stroke="#444" stroke-width="0.8"/>
<line x1="208.3" y1="601.66" x2="212.7" y2="601.66" stroke="#444" stroke-width="0.8"/>
<line x1="210.5" y1="596.6" x2="210.5" y2="620.92" stroke="#444" stroke-width="0.8"/>
<line x1="208.3" y1="596.6" x2="212.7" y2="596.6" stroke="#444" stroke-width="0.8"/>
<line x1="208.3" y1="620.92" x2="212.7" y2="620.92" stroke="#444" stroke-width="0.8"/>
<path d="M208.04 593.56L210.5 591.36L212.96 593.56L210.5 595.76Z" fill="#111"/>
<rect x="208.22" y="606.86" width="4.56" height="3.8" fill="#111"/>
<line x1="81.3" y1="594.3" x2="110" y2="594.3" stroke="#111" stroke-width="1.2"/>
<path d="M92.79 594.3L95.7 591.7L98.61 594.3L95.7 596.9Z" fill="#111"/>
<text x="117.0" y="597.6" font-size="10" textLength="21.8" lengthAdjust="spacingAndGlyphs" fill="#222">CON</text>
<line x1="82" y1="608.8" x2="110" y2="608.8" stroke="#222" stroke-width="1.2" stroke-dasharray="1.5 2.5"/>
<rect x="93.42" y="606.9" width="4.56" height="3.8" fill="#111"/>
<text x="117.0" y="612.1" font-size="10" textLength="50.8" lengthAdjust="spacingAndGlyphs" fill="#222">PSF Y293T</text>
<text x="39.8" y="675.6" font-size="8.5" font-weight="bold" textLength="76" lengthAdjust="spacingAndGlyphs" transform="rotate(-90 39.8 675.6)" fill="#111">Proliferation Rate</text>
<text x="50.5" y="675.8" font-size="8.5" font-weight="bold" textLength="76.5" lengthAdjust="spacingAndGlyphs" transform="rotate(-90 50.5 675.8)" fill="#111">(Normalized cpm)</text>
</g>
<g id="panelH">
<text x="322.7" y="570.9" font-size="16.8" font-weight="bold" textLength="11.2" lengthAdjust="spacingAndGlyphs" fill="#000">H</text>
<rect x="323" y="630.2" width="27.5" height="18.8" fill="#d2d2d2"/>
<rect x="352.3" y="630.2" width="26.7" height="18.8" fill="#b6b6b6"/>
<rect x="323" y="655.8" width="27.5" height="15.6" fill="#e4e4e4"/>
<rect x="352.3" y="655.8" width="26.7" height="15.6" fill="#e0e0e0"/>
<g filter="url(#nz)"><rect x="323" y="630.2" width="27.5" height="18.8" fill="#999"/><rect x="352.3" y="630.2" width="26.7" height="18.8" fill="#777"/><rect x="323" y="655.8" width="27.5" height="15.6" fill="#aaa"/><rect x="352.3" y="655.8" width="26.7" height="15.6" fill="#aaa"/></g>
<g filter="url(#b2)">
<path d="M353.4 640.5 C354.6 637.9 358 637.2 364 637.0 L375 636.8 C378 637.0 378.8 638.4 378.8 640.2 C378.8 642.2 378 643.4 375 643.6 L364 643.8 C358 643.8 354.6 643.2 353.4 640.5Z" fill="#060606"/>
</g>
<g filter="url(#b1)">
<path d="M323.4 663.4 C330 665.6 342 665.6 350.2 663.2" stroke="#2a2a2a" stroke-width="2.5" fill="none"/>
<path d="M352.6 664.6 C360 665 370 663.6 378.8 661.6" stroke="#2a2a2a" stroke-width="2.5" fill="none"/>
</g>
<text x="388.0" y="645.2" font-size="12.8" textLength="49.2" lengthAdjust="spacingAndGlyphs" fill="#1a1a1a">anti-HA</text>
<text x="388.0" y="666.8" font-size="12.8" textLength="59.3" lengthAdjust="spacingAndGlyphs" fill="#1a1a1a">anti-actin</text>
<text x="334.2" y="628.6" font-size="12.4" textLength="27.5" lengthAdjust="spacingAndGlyphs" transform="rotate(-42 334.2 628.6)" fill="#1a1a1a" stroke="#1a1a1a" stroke-width="0.25">CON</text>
<text x="361.6" y="628.6" font-size="12.4" textLength="84.5" lengthAdjust="spacingAndGlyphs" transform="rotate(-42 361.6 628.6)" fill="#1a1a1a" stroke="#1a1a1a" stroke-width="0.25">HA-PSF Y293F</text>
</g>
</svg></body></html>
